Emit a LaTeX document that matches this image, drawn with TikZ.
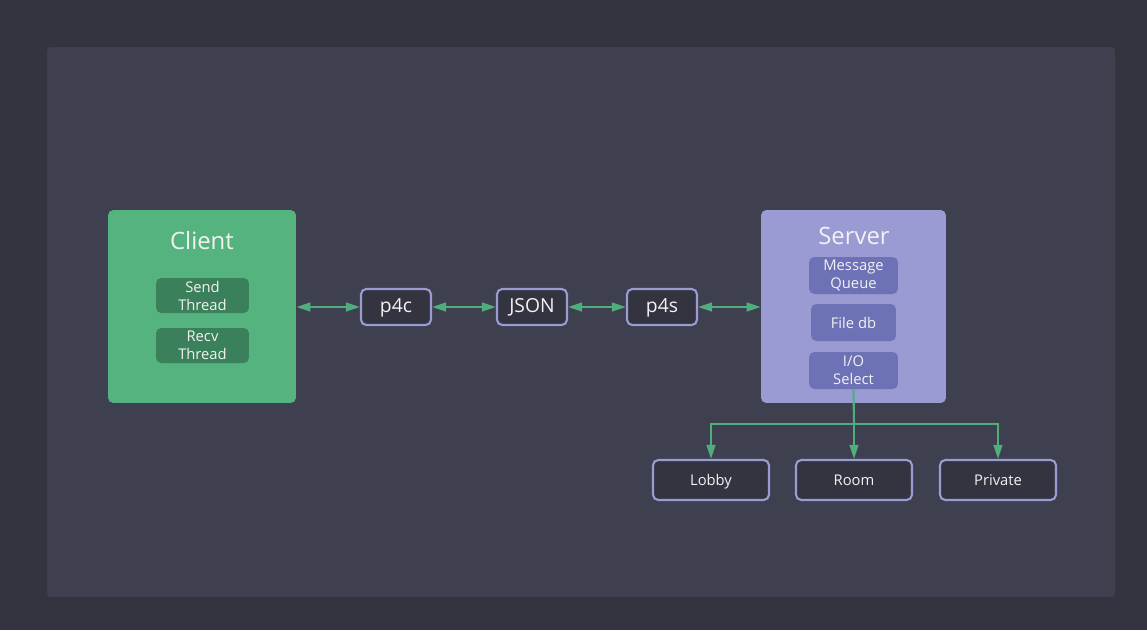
\documentclass[tikz,border=0pt]{standalone}
\usepackage{fontspec}
\setmainfont{Open Sans}
\usetikzlibrary{positioning,arrows.meta}

\definecolor{bgout}{HTML}{33343F}
\definecolor{bgpanel}{HTML}{3E3F4F}
\definecolor{cgreen}{HTML}{55B380}
\definecolor{cdkgreen}{HTML}{3A805A}
\definecolor{slav}{HTML}{9A9BD3}
\definecolor{sdklav}{HTML}{6D71B5}
\definecolor{lnk}{HTML}{4FAE7C}
\definecolor{txt}{HTML}{F2F2F2}

\tikzset{
  group/.style={rounded corners=3pt, inner sep=0pt},
  title/.style={text=txt, font=\fontsize{13.6}{15}\selectfont},
  sub/.style={rounded corners=3pt, text=txt, align=center, inner sep=0pt,
    font=\fontsize{8.4}{10.2}\selectfont},
  box/.style={draw=slav, line width=1.2pt, fill=bgout, rounded corners=3pt,
    text=txt, inner sep=0pt, text height=1.6ex, text depth=0.4ex},
  biarrow/.style={lnk, line width=1.2pt, {Triangle[length=8pt,width=5pt]}-{Triangle[length=8pt,width=5pt]}},
  branch/.style={lnk, line width=1.2pt, -{Triangle[length=8pt,width=5pt]}}
}

\begin{document}
\begin{tikzpicture}[x=0.02cm, y=0.02cm]

% background and panel
\fill[bgout] (0,0) rectangle (1147,-630);
\fill[bgpanel, rounded corners=2pt] (47,-47) rectangle (1115,-597);

% client side
\node[group, fill=cgreen, minimum width=3.76cm, minimum height=3.86cm] (client) at (202,-306.5) {};
\node[title] (clienttitle) at (202,-241) {Client};
\node[sub, fill=cdkgreen, minimum width=1.86cm, minimum height=0.70cm] (send) at (202.5,-295.5) {Send\\Thread};
\node[sub, fill=cdkgreen, minimum width=1.86cm, minimum height=0.70cm] (recv) at (202.5,-345.5) {Recv\\Thread};

% protocol chain
\node[box, minimum width=1.4cm, minimum height=0.72cm, font=\fontsize{11}{13}\selectfont] (p4c) at (396,-307) {p4c};
\node[box, minimum width=1.4cm, minimum height=0.72cm, font=\fontsize{11}{13}\selectfont] (json) at (532,-307) {JSON};
\node[box, minimum width=1.4cm, minimum height=0.72cm, font=\fontsize{11}{13}\selectfont] (p4s) at (662,-307) {p4s};

% server side
\node[group, fill=slav, minimum width=3.7cm, minimum height=3.86cm] (server) at (853.5,-306.5) {};
\node[title] (servertitle) at (854,-236) {Server};
\node[sub, fill=sdklav, minimum width=1.78cm, minimum height=0.74cm] (mq) at (853.5,-275.5) {Message\\Queue};
\node[sub, fill=sdklav, minimum width=1.70cm, minimum height=0.74cm] (filedb) at (853.5,-322.5) {File db};
\node[sub, fill=sdklav, minimum width=1.78cm, minimum height=0.74cm] (io) at (853.5,-370.5) {I/O\\Select};

% rooms
\node[box, minimum width=2.32cm, minimum height=0.80cm, font=\fontsize{8.4}{10}\selectfont] (lobby) at (711,-480) {Lobby};
\node[box, minimum width=2.32cm, minimum height=0.80cm, font=\fontsize{8.4}{10}\selectfont] (room) at (854,-480) {Room};
\node[box, minimum width=2.32cm, minimum height=0.80cm, font=\fontsize{8.4}{10}\selectfont] (private) at (998,-480) {Private};

% links
\draw[biarrow] (client.east |- p4c.west) -- (p4c.west);
\draw[biarrow] (p4c.east) -- (json.west);
\draw[biarrow] (json.east) -- (p4s.west);
\draw[biarrow] (p4s.east) -- (server.west |- p4s.east);

% dispatch from select
\coordinate (split) at (854,-424);
\draw[lnk, line width=1.2pt] (io.south) -- (split);
\draw[branch] (split) -| (lobby.north);
\draw[branch] (split) -- (room.north);
\draw[branch] (split) -| (private.north);

\end{tikzpicture}
\end{document}
